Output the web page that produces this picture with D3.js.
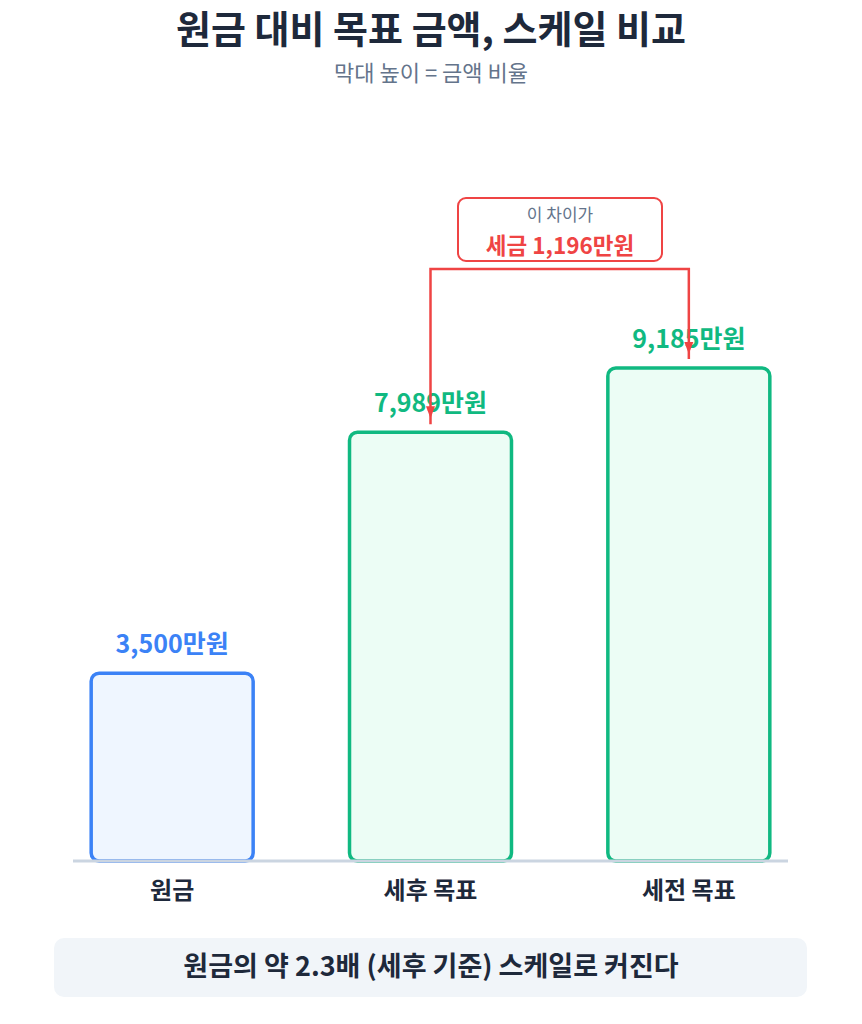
<!DOCTYPE html>
<html><head><meta charset="utf-8">
<script src="https://cdn.jsdelivr.net/npm/d3@7"></script>
<style>
html,body{margin:0;padding:0;background:#fff;}
text{font-family:"Noto Sans CJK KR","Noto Sans",sans-serif;}
</style></head>
<body>
<svg id="c" width="862" height="1024"></svg>
<script>
const categories = ["원금", "세후 목표", "세전 목표"];
const values = [3500, 7989, 9185];
const valueLabels = ["3,500만원", "7,989만원", "9,185만원"];
const strokeColors = ["#3b82f6", "#10b981", "#10b981"];
const fillColors = ["#eff6ff", "#ecfdf5", "#ecfdf5"];
const labelColors = ["#3b82f6", "#10b981", "#10b981"];
const titleText = "원금 대비 목표 금액, 스케일 비교";
const subtitleText = "막대 높이 = 금액 비율";
const noteTop = "이 차이가";
const noteMain = "세금 1,196만원";
const footerText = "원금의 약 2.3배 (세후 기준) 스케일로 커진다";

const svg = d3.select("#c");
const x = d3.scaleBand().domain(categories).range([43, 818]).paddingInner(0.373).paddingOuter(0.1865);
const y = d3.scaleLinear().domain([0, 9185]).range([861, 368]);

svg.append("text").attr("x", 431).attr("y", 43).attr("text-anchor", "middle")
  .attr("font-size", 38).attr("font-weight", 700).attr("fill", "#1e293b").text(titleText);
svg.append("text").attr("x", 431).attr("y", 81).attr("text-anchor", "middle")
  .attr("font-size", 22).attr("fill", "#64748b").text(subtitleText);

// bars
const g = svg.append("g");
categories.forEach((c, i) => {
  g.append("rect").attr("x", x(c)).attr("y", y(values[i]))
    .attr("width", x.bandwidth()).attr("height", y(0) - y(values[i]))
    .attr("rx", 8).attr("fill", fillColors[i]).attr("stroke", strokeColors[i]).attr("stroke-width", 3.5);
  g.append("text").attr("x", x(c) + x.bandwidth()/2).attr("y", y(values[i]) - 20)
    .attr("text-anchor", "middle").attr("font-size", 25).attr("font-weight", 700)
    .attr("fill", labelColors[i]).text(valueLabels[i]);
  g.append("text").attr("x", x(c) + x.bandwidth()/2).attr("y", 899)
    .attr("text-anchor", "middle").attr("font-size", 24).attr("font-weight", 700)
    .attr("fill", "#1e293b").text(c);
});
// baseline
svg.append("line").attr("x1", 73).attr("x2", 788).attr("y1", y(0)).attr("y2", y(0))
  .attr("stroke", "#cbd5e1").attr("stroke-width", 3);

// bracket
const red = "#ef4444";
const xa = x(categories[1]) + x.bandwidth()/2;
const xb = x(categories[2]) + x.bandwidth()/2;
const yTop = 269;
const ya = y(values[1]) - 8, yb = y(values[2]) - 9;
svg.append("path").attr("d", `M${xa},${ya}V${yTop}H${xb}V${yb}`)
  .attr("fill", "none").attr("stroke", red).attr("stroke-width", 2.5);
[[xa, ya - 6], [xb, yb - 5]].forEach(([px, py]) => {
  svg.append("path").attr("d", `M${px-4.5},${py-12}L${px+4.5},${py-12}L${px},${py}Z`).attr("fill", red);
});
// note box
svg.append("rect").attr("x", 458).attr("y", 198).attr("width", 204).attr("height", 63).attr("rx", 8)
  .attr("fill", "#fff").attr("stroke", red).attr("stroke-width", 2);
svg.append("text").attr("x", 560).attr("y", 221).attr("text-anchor", "middle")
  .attr("font-size", 17).attr("fill", "#64748b").text(noteTop);
svg.append("text").attr("x", 560).attr("y", 254).attr("text-anchor", "middle")
  .attr("font-size", 22.5).attr("font-weight", 700).attr("fill", red).text(noteMain);

// footer
svg.append("rect").attr("x", 54).attr("y", 938).attr("width", 753).attr("height", 59).attr("rx", 10)
  .attr("fill", "#f1f5f9");
svg.append("text").attr("x", 431).attr("y", 976).attr("text-anchor", "middle")
  .attr("font-size", 27).attr("font-weight", 700).attr("fill", "#1e293b").text(footerText);
</script>
</body></html>
